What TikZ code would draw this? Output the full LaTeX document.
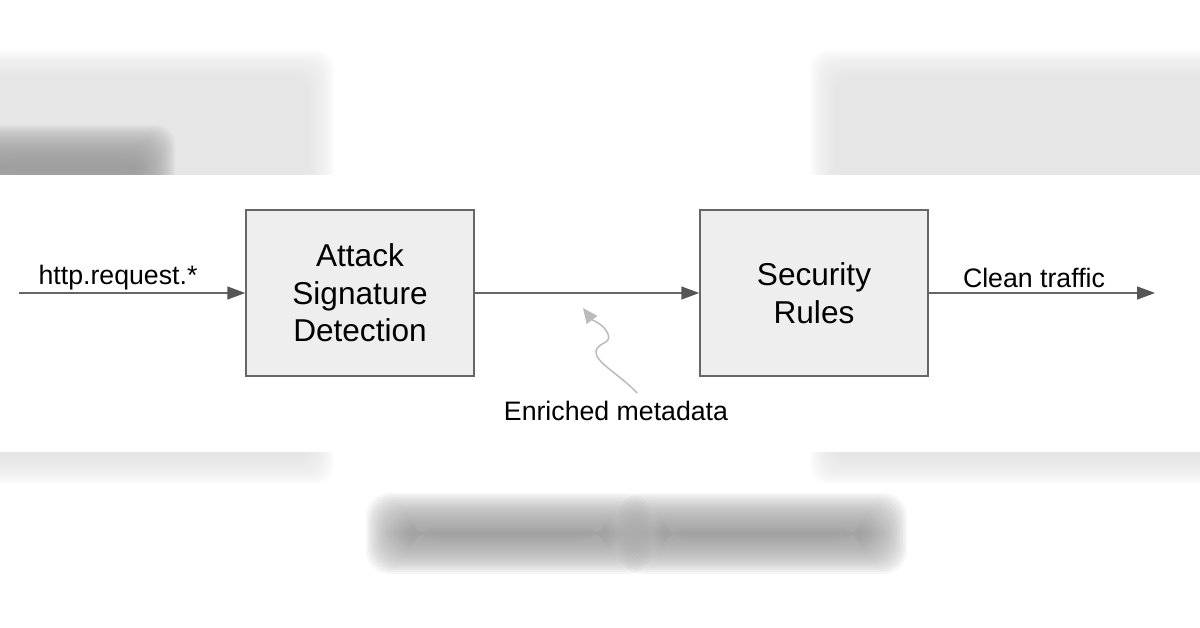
\documentclass[tikz,border=0pt]{standalone}
\usepackage{fontspec}
\setmainfont{Liberation Sans}
\usetikzlibrary{arrows.meta,calc}
\definecolor{edge}{HTML}{666666}
\definecolor{boxfill}{HTML}{EEEEEE}
\definecolor{tipc}{HTML}{555555}
\definecolor{soft}{HTML}{BBBBBB}
\definecolor{bgpanel}{HTML}{E6E6E6}
\definecolor{bgtext}{HTML}{9C9C9C}
\newcommand{\blurrect}[6]{%
  \foreach \k in {0,...,23}{%
    \fill[#5, opacity=0.09, rounded corners=#6*1pt]
      ($(#1,#2)+(\k*#6/11.5-#6,\k*#6/11.5-#6)$) rectangle ($(#3,#4)-(\k*#6/11.5-#6,\k*#6/11.5-#6)$);
  }}
\tikzset{
  procbox/.style={draw=edge, fill=boxfill, line width=1.5pt, minimum width=228pt, minimum height=166pt, align=center, inner sep=0pt, font=\fontsize{31.6}{37.5}\selectfont},
  lbl/.style={font=\fontsize{26.7}{30}\selectfont, inner sep=0pt},
  flow/.style={draw=edge, line width=1.5pt, -{Triangle[length=18pt,width=13pt,fill=tipc,color=tipc]}},
  note/.style={draw=soft, line width=1.5pt, -{Triangle[length=15pt,width=13pt,fill=soft,color=soft]}}
}
\begin{document}
\begin{tikzpicture}[x=1pt,y=-1pt]
\useasboundingbox (0,0) rectangle (1200,628);
\fill[white] (0,0) rectangle (1200,628);
% blurred background copy
\blurrect{-40}{68}{316}{466}{bgpanel}{18}
\blurrect{828}{68}{1240}{466}{bgpanel}{18}
\blurrect{-20}{145}{155}{190}{bgtext}{20}
\blurrect{390}{517}{628}{550}{bgtext}{24}
\blurrect{642}{517}{883}{550}{bgtext}{24}
% main panel
\fill[white] (0,175) rectangle (1200,452);
% nodes
\node[procbox] (asd) at (360,293) {Attack\\Signature\\Detection};
\node[procbox] (sr) at (814,293) {Security\\Rules};
\coordinate (in) at (19,293);
\coordinate (out) at (1155,293);
\node[lbl] (lin) at (118,278) {http.request.*};
\node[lbl] (lout) at (1034,278) {Clean traffic};
\node[lbl] (lmeta) at (616,411) {Enriched metadata};
\coordinate (ms) at (637,393);
\coordinate (mt) at (583,308);
% connectors
\draw[flow] (in) -- (asd.west);
\draw[flow] (asd.east) -- (sr.west);
\draw[flow] (sr.east) -- (out);
\draw[note] (ms) .. controls (622,376) and (594,362) .. (596,351)
  .. controls (598,342) and (612,344) .. (608,334)
  .. controls (604,324) and (592,320) .. (mt);
\end{tikzpicture}
\end{document}
